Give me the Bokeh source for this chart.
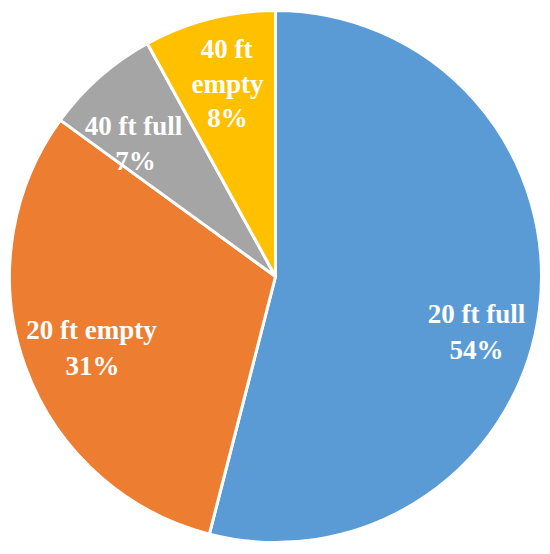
import math
from bokeh.plotting import figure
from bokeh.models import Range1d, ColumnDataSource
from bokeh.core.properties import value
from bokeh.embed import file_html
from bokeh.resources import INLINE

# data
categories = ["20 ft full", "20 ft empty", "40 ft full", "40 ft empty"]
shares = [54, 31, 7, 8]
colors = ["#5B9BD5", "#ED7D31", "#A5A5A5", "#FFC000"]

# label lines (text) and their positions relative to pie centre (pixels, y up)
label_lines = ["20 ft full", "54%", "20 ft empty", "31%", "40 ft full", "7%", "40 ft", "empty", "8%"]
label_dx = [201, 201, -184, -183, -142, -140, -49, -48, -48]
label_dy = [-37, -73, -53, -89, 151, 116, 228, 193, 159]

W, H = 542, 546
R = 266
cx, cy = 0, 0

total = sum(shares)
starts, ends = [], []
acc = 0.0
for s in shares:
    starts.append(math.pi / 2 - 2 * math.pi * acc / total)
    acc += s
    ends.append(math.pi / 2 - 2 * math.pi * acc / total)

src = ColumnDataSource(dict(cat=categories, share=shares, color=colors,
                            start=starts, end=ends))

p = figure(width=W, height=H, output_backend="svg", toolbar_location=None,
           x_range=Range1d(-275, 267), y_range=Range1d(-270, 276),
           min_border=0, x_axis_type=None, y_axis_type=None)
p.outline_line_color = None
p.grid.visible = False
p.background_fill_color = "white"
p.border_fill_color = "white"

p.wedge(x=cx, y=cy, radius=R, start_angle="start", end_angle="end",
        direction="clock", fill_color="color", line_color="white",
        line_width=3, source=src)

p.text(x=[cx + d for d in label_dx], y=[cy + d for d in label_dy], text=label_lines,
       text_color="white", text_font=value("Liberation Serif"),
       text_font_style="bold", text_font_size="27px",
       text_align="center", text_baseline="middle")

open("out.html", "w").write(file_html(p, INLINE))
